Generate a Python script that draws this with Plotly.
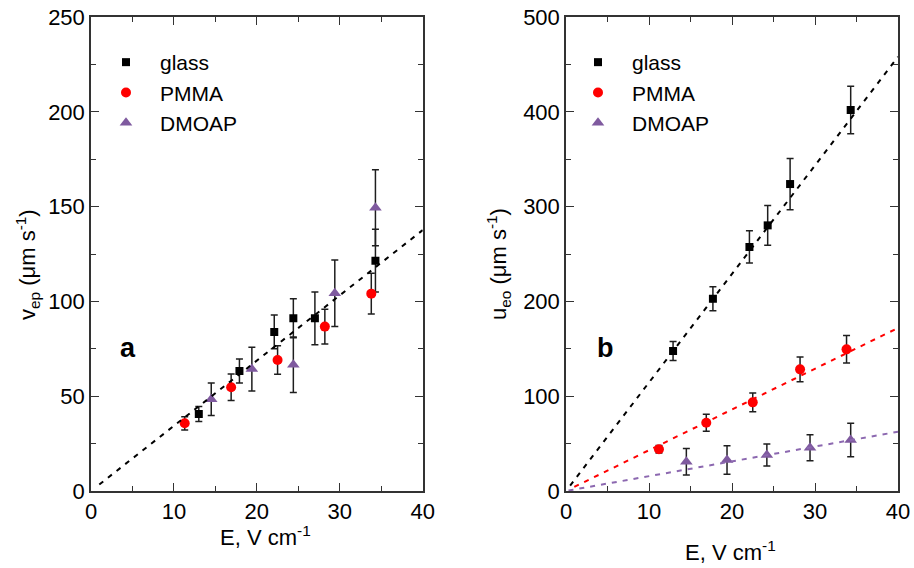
import plotly.graph_objects as go

# ---------- data ----------
# Panel a: v_ep
a_glass_x = [13.0, 17.9, 22.1, 24.4, 27.0, 34.3]
a_glass_y = [40.6, 63.3, 83.9, 91.1, 91.1, 121.5]
a_glass_e = [4.0, 6.3, 8.9, 10.3, 13.9, 16.5]

a_pmma_x = [11.3, 16.9, 22.5, 28.2, 33.8]
a_pmma_y = [35.7, 54.7, 69.1, 86.7, 104.1]
a_pmma_e = [3.5, 7.0, 7.5, 9.2, 10.8]

a_dmoap_x = [14.5, 19.4, 24.4, 29.4, 34.3]
a_dmoap_y = [48.4, 64.3, 66.6, 104.3, 149.4]
a_dmoap_e = [8.6, 11.5, 14.6, 17.6, 20.0]

a_fit_x = [1.0, 40.0]
a_fit_y = [3.4, 137.6]

# Panel b: u_eo
b_glass_x = [12.9, 17.7, 22.1, 24.3, 27.0, 34.3]
b_glass_y = [147.7, 202.8, 257.4, 280.2, 323.8, 401.9]
b_glass_e = [10.0, 12.7, 17.0, 21.0, 27.0, 25.0]

b_pmma_x = [11.2, 16.9, 22.5, 28.2, 33.8]
b_pmma_y = [44.0, 72.0, 93.5, 128.3, 149.4]
b_pmma_e = [4.0, 9.0, 10.0, 13.0, 14.5]

b_dmoap_x = [14.5, 19.4, 24.2, 29.4, 34.3]
b_dmoap_y = [30.9, 32.7, 38.0, 45.7, 53.8]
b_dmoap_e = [14.0, 15.0, 11.6, 13.7, 17.7]

b_fit_glass_x = [0.5, 40.0]
b_fit_glass_y = [5.7, 458.0]
b_fit_pmma_x = [1.0, 40.0]
b_fit_pmma_y = [4.3, 172.0]
b_fit_dmoap_x = [0.3, 40.0]
b_fit_dmoap_y = [0.5, 62.5]

series_names = ["glass", "PMMA", "DMOAP"]
x_ticks = [0, 10, 20, 30, 40]
a_y_ticks = [0, 50, 100, 150, 200, 250]
b_y_ticks = [0, 100, 200, 300, 400, 500]

# ---------- style ----------
FONT = "Liberation Sans, Arial, sans-serif"
BLACK = "#000000"
RED = "#ff0000"
PURPLE = "#7f5a9f"
PURPLE_LINE = "#8c68b0"
ERR = "#1e1e1e"
AX = "#333333"

fig = go.Figure()


def err(arr):
    return dict(type="data", array=arr, color=ERR, thickness=1.5, width=3.5)


def add_panel(xa, ya, legend, data, fits):
    for (name, xs, ys, es, color, symbol, size) in data:
        fig.add_trace(go.Scatter(
            x=xs, y=ys, mode="markers", name=name,
            marker=dict(color=color, symbol=symbol, size=size, line=dict(width=0)),
            error_y=err(es), xaxis=xa, yaxis=ya, legend=legend,
        ))
    for (xs, ys, color) in fits:
        fig.add_trace(go.Scatter(
            x=xs, y=ys, mode="lines", showlegend=False, hoverinfo="skip",
            line=dict(color=color, width=2, dash="5px,6px"),
            xaxis=xa, yaxis=ya,
        ))


add_panel("x", "y", "legend", [
    (series_names[0], a_glass_x, a_glass_y, a_glass_e, BLACK, "square", 8),
    (series_names[1], a_pmma_x, a_pmma_y, a_pmma_e, RED, "circle", 10),
    (series_names[2], a_dmoap_x, a_dmoap_y, a_dmoap_e, PURPLE, "triangle-up", 11),
], [(a_fit_x, a_fit_y, BLACK)])

add_panel("x2", "y2", "legend2", [
    (series_names[0], b_glass_x, b_glass_y, b_glass_e, BLACK, "square", 8),
    (series_names[1], b_pmma_x, b_pmma_y, b_pmma_e, RED, "circle", 10),
    (series_names[2], b_dmoap_x, b_dmoap_y, b_dmoap_e, PURPLE, "triangle-up", 11),
], [(b_fit_glass_x, b_fit_glass_y, BLACK),
    (b_fit_pmma_x, b_fit_pmma_y, RED),
    (b_fit_dmoap_x, b_fit_dmoap_y, PURPLE_LINE)])

W, H = 914, 568
x1d = [91 / W, 422.7 / W]
x2d = [566 / W, 898 / W]
yd = [1 - 491 / H, 1 - 17 / H]


def axis_common(dom, rng, ticks, minor_dtick, anchor):
    return dict(
        domain=dom, range=rng, tickvals=ticks, ticktext=[str(t) for t in ticks],
        showgrid=False, zeroline=False, showline=True, linecolor=AX, linewidth=1.5,
        mirror="allticks", ticks="inside", ticklen=8, tickwidth=1.2, tickcolor=AX,
        minor=dict(ticks="inside", ticklen=5, tickwidth=1.2, tickcolor=AX,
                   dtick=minor_dtick, tick0=0, showgrid=False),
        tickfont=dict(family=FONT, size=22, color="#000"),
        anchor=anchor, fixedrange=True, automargin=False,
    )


legend_common = dict(
    font=dict(family=FONT, size=21, color="#000"), bgcolor="rgba(0,0,0,0)",
    borderwidth=0, xanchor="left", yanchor="top", itemwidth=58,
    tracegroupgap=0, itemsizing="trace",
)


def ann(text, x, y, size=22, angle=0):
    return dict(text=text, x=x / W, y=1 - y / H, xref="paper", yref="paper",
                xanchor="center", yanchor="middle", textangle=angle,
                showarrow=False, font=dict(family=FONT, size=size, color="#000"))


fig.update_layout(
    template="none",
    width=W, height=H, margin=dict(l=0, r=0, t=0, b=0, autoexpand=False),
    paper_bgcolor="white", plot_bgcolor="white",
    font=dict(family=FONT, size=22, color="#000"),
    xaxis=axis_common(x1d, [0, 40], x_ticks, 5, "y"),
    yaxis=axis_common(yd, [0, 250], a_y_ticks, 25, "x"),
    xaxis2=axis_common(x2d, [0, 40], x_ticks, 5, "y2"),
    yaxis2=axis_common(yd, [0, 500], b_y_ticks, 50, "x2"),
    legend=dict(x=92 / W, y=1 - 42 / H, **legend_common),
    legend2=dict(x=564 / W, y=1 - 42 / H, **legend_common),
    showlegend=True,
    annotations=[
        ann("<b>a</b>", 128, 348, size=27),
        ann("<b>b</b>", 605, 348, size=27),
        ann("E, V cm<sup>-1</sup>", 265, 536),
        ann("E, V cm<sup>-1</sup>", 730, 551),
        ann("v<sub>ep</sub> (μm s<sup>-1</sup>)", 27, 265, angle=-90),
        ann("u<sub>eo</sub> (μm s<sup>-1</sup>)", 498, 264, angle=-90),
    ],
)

fig.write_html("out.html")
